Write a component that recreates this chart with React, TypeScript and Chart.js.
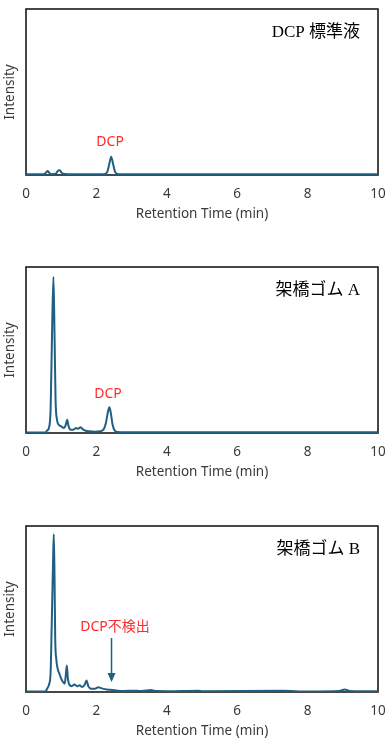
import React, { useEffect, useRef } from "react";
import { Chart, registerables } from "chart.js";

Chart.register(...registerables);

// ---- Data (minutes / relative intensity) ----
const STD_TIME = [0, 0.5, 0.57, 0.62, 0.67, 0.73, 0.85, 0.91, 0.96, 1.02, 1.1, 1.2, 2.2, 2.3, 2.36, 2.42, 2.48, 2.54, 2.65, 5, 10];
const STD_INT = [0.4, 0.4, 1.5, 2.4, 1.0, 0.5, 0.8, 2.6, 2.8, 1.2, 0.6, 0.5, 0.5, 1.5, 6, 11, 6, 1.5, 0.5, 0.5, 0.5];

const A_TIME = [0, 0.55, 0.6, 0.65, 0.7, 0.74, 0.78, 0.81, 0.84, 0.88, 0.93, 1.0, 1.08, 1.13, 1.17, 1.21, 1.27, 1.35, 1.42, 1.48, 1.55, 1.6, 1.68, 1.8, 1.95, 2.1, 2.2, 2.27, 2.33, 2.37, 2.41, 2.46, 2.52, 2.6, 3, 4, 10];
const A_INT = [0.3, 0.3, 1.5, 3, 15, 60, 94, 60, 20, 8, 5, 4, 3, 5, 8, 4, 2, 2, 3, 2.5, 3.5, 2.5, 1.5, 1, 0.8, 1, 2, 6, 13, 15.5, 12, 5, 1.5, 0.6, 0.4, 0.4, 0.4];

const B_TIME = [0, 0.55, 0.6, 0.66, 0.7, 0.73, 0.75, 0.77, 0.79, 0.81, 0.83, 0.86, 0.9, 0.95, 1.0, 1.05, 1.1, 1.13, 1.16, 1.19, 1.23, 1.3, 1.38, 1.45, 1.52, 1.6, 1.67, 1.72, 1.77, 1.85, 1.95, 2.05, 2.15, 2.3, 2.45, 2.6, 2.8, 3.0, 3.3, 3.55, 3.65, 4.0, 4.9, 5.0, 7.3, 8.0, 8.9, 9.05, 9.2, 10];
const B_INT = [0.3, 0.3, 2, 5, 12, 40, 60, 80, 95, 70, 32, 20, 14, 11, 8, 6, 5, 10, 16, 8, 4.5, 3.5, 4.5, 3.5, 4, 3, 4.5, 7, 3.5, 2, 2, 2.8, 2.2, 1.5, 1.2, 0.8, 0.6, 0.8, 0.6, 1.2, 0.7, 0.5, 0.8, 0.4, 0.7, 0.3, 0.6, 1.5, 0.6, 0.4];

const PANEL_TITLES = ["DCP 標準液", "架橋ゴム A", "架橋ゴム B"];
const X_TITLE = "Retention Time (min)";
const Y_TITLE = "Intensity";

// label: [text, x(min), y(intensity)]
const PEAK_LABELS: [string, number, number][][] = [
  [["DCP", 2.39, 19.6]],
  [["DCP", 2.33, 23.5]],
  [["DCP不検出", 2.53, 38.9]],
];
// arrow: [x, yFrom, yTo] or null
const ARROWS: ([number, number, number] | null)[] = [null, null, [2.43, 32.5, 6]];

const LINE_COLOR = "#1f5f82";
const TEXT_COLOR = "#3a3a3a";
const SANS = '"Noto Sans", "Noto Sans CJK JP", sans-serif';
const SERIF = '"Liberation Serif", "DejaVu Serif", "Noto Sans CJK JP", serif';

const W = 389;
const H = 230;
const TOPS = [0, 258, 517];

function Panel({ idx, times, values }: { idx: number; times: number[]; values: number[] }) {
  const ref = useRef<HTMLCanvasElement | null>(null);
  useEffect(() => {
    if (!ref.current) return;
    const overlay = {
      id: "overlay" + idx,
      beforeDatasetsDraw(chart: any) {
        const { ctx, chartArea } = chart;
        ctx.save();
        ctx.strokeStyle = "#1a1a1a";
        ctx.lineWidth = 1.6;
        ctx.strokeRect(chartArea.left, chartArea.top, chartArea.right - chartArea.left, chartArea.bottom - chartArea.top);
        ctx.restore();
      },
      afterDraw(chart: any) {
        const { ctx, chartArea, scales } = chart;
        ctx.save();
        ctx.fillStyle = "#000";
        ctx.font = `17px ${SERIF}`;
        ctx.textAlign = "right";
        ctx.textBaseline = "middle";
        ctx.fillText(PANEL_TITLES[idx], chartArea.right - 18, chartArea.top + 24);
        ctx.fillStyle = "#ff2a2a";
        ctx.font = `14px ${SANS}`;
        ctx.textAlign = "center";
        for (const [t, x, y] of PEAK_LABELS[idx]) {
          ctx.fillText(t, scales.x.getPixelForValue(x), scales.y.getPixelForValue(y));
        }
        const a = ARROWS[idx];
        if (a) {
          const px = scales.x.getPixelForValue(a[0]);
          const y1 = scales.y.getPixelForValue(a[1]);
          const y2 = scales.y.getPixelForValue(a[2]);
          ctx.strokeStyle = LINE_COLOR;
          ctx.fillStyle = LINE_COLOR;
          ctx.lineWidth = 1.5;
          ctx.beginPath();
          ctx.moveTo(px, y1);
          ctx.lineTo(px, y2 - 8);
          ctx.stroke();
          ctx.beginPath();
          ctx.moveTo(px - 4, y2 - 9);
          ctx.lineTo(px + 4, y2 - 9);
          ctx.lineTo(px, y2);
          ctx.closePath();
          ctx.fill();
        }
        ctx.restore();
      },
    };
    const chart = new Chart(ref.current, {
      type: "line",
      data: {
        datasets: [
          {
            data: times.map((t, i) => ({ x: t, y: values[i] })),
            borderColor: LINE_COLOR,
            borderWidth: 2,
            pointRadius: 0,
            cubicInterpolationMode: "monotone",
            fill: false,
          },
        ],
      },
      options: {
        animation: false,
        responsive: false,
        devicePixelRatio: 1,
        layout: { padding: { top: 9, right: 11, left: 0, bottom: 0 } },
        plugins: { legend: { display: false }, tooltip: { enabled: false } },
        scales: {
          x: {
            type: "linear",
            min: 0,
            max: 10,
            grid: { display: false, drawTicks: false },
            border: { display: false },
            ticks: { stepSize: 2, padding: 11, color: TEXT_COLOR, font: { family: SANS, size: 13.5 } },
            title: {
              display: true,
              text: X_TITLE,
              color: TEXT_COLOR,
              font: { family: SANS, size: 13.5 },
              padding: { top: 4, bottom: 8 },
            },
            afterFit(scale: any) {
              scale.height = 55;
              scale.paddingLeft = 0;
              scale.paddingRight = 0;
            },
          },
          y: {
            min: 0,
            max: 100,
            grid: { display: false, drawTicks: false },
            border: { display: false },
            ticks: { display: false },
            title: {
              display: true,
              text: Y_TITLE,
              color: TEXT_COLOR,
              font: { family: SANS, size: 13.5 },
              padding: { top: 2, bottom: 2 },
            },
            afterFit(scale: any) {
              scale.width = 26;
              scale.paddingTop = 0;
              scale.paddingBottom = 0;
            },
          },
        },
      },
      plugins: [overlay],
    } as any);
    return () => chart.destroy();
  }, [idx, times, values]);
  return (
    <canvas
      ref={ref}
      width={W}
      height={H}
      style={{ position: "absolute", left: 0, top: TOPS[idx], width: W, height: H }}
    />
  );
}

export default function App() {
  return (
    <div style={{ position: "absolute", left: 0, top: 0, width: W, height: 747, overflow: "hidden", background: "#fff" }}>
      <Panel idx={0} times={STD_TIME} values={STD_INT} />
      <Panel idx={1} times={A_TIME} values={A_INT} />
      <Panel idx={2} times={B_TIME} values={B_INT} />
    </div>
  );
}
